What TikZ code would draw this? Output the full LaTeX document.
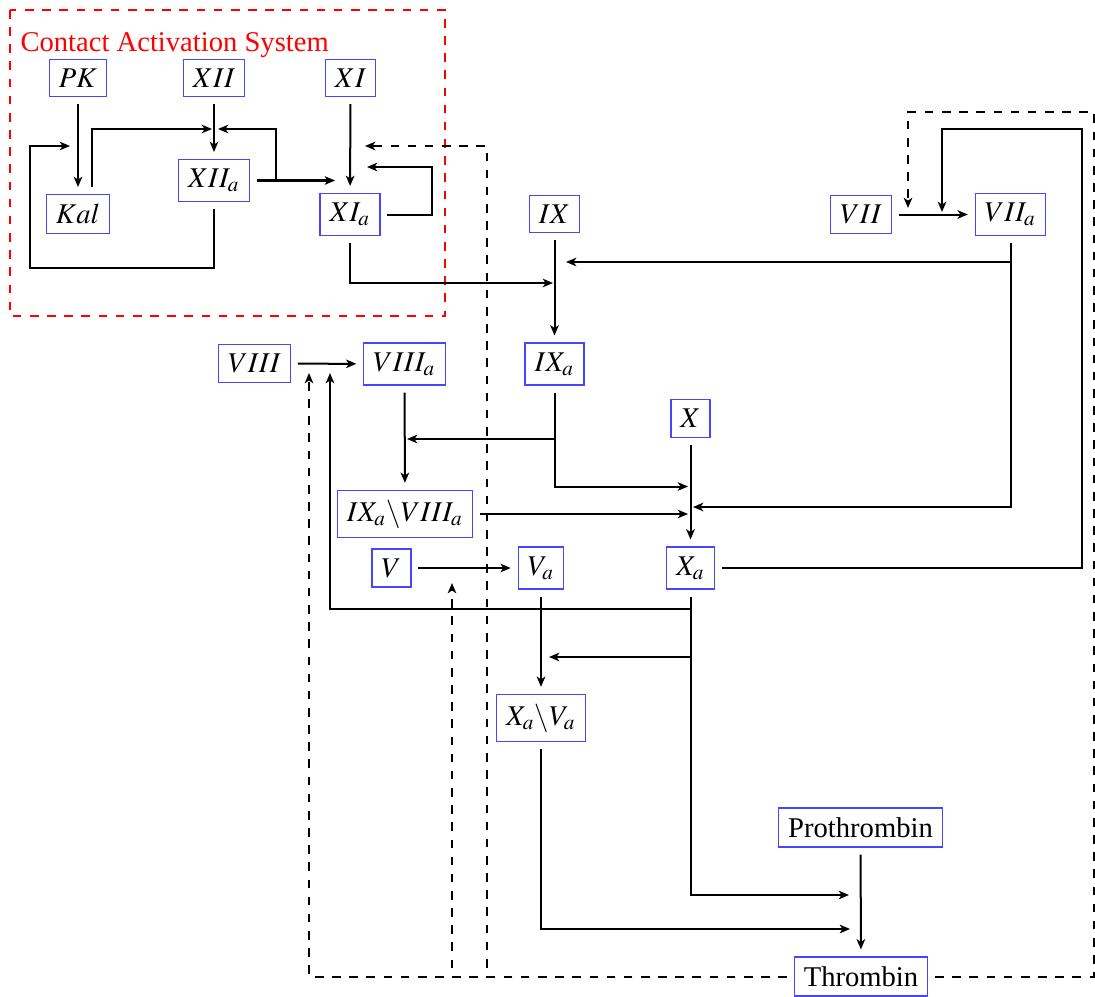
\documentclass[tikz,border=0pt]{standalone}
\usepackage{mathptmx}
\usepackage{fontspec}
\setmainfont{Liberation Serif}
\usetikzlibrary{arrows.meta,calc}
\definecolor{boxblue}{RGB}{70,70,255}
\begin{document}
\begin{tikzpicture}[x=0.3497pt,y=-0.3497pt,
  box/.style={draw=boxblue, line width=0.45pt, inner sep=0.3333em, outer sep=2.6pt},
  con/.style={line width=0.7pt, -{Stealth[length=3.6pt,width=3pt,inset=1pt]}},
  dsh/.style={line width=0.7pt, dashed, -{Stealth[length=3.6pt,width=3pt,inset=1pt]}}]
\useasboundingbox (0,0) rectangle (1095,996);
% contact activation system frame
\draw[red,dashed] (10,10) rectangle (445,316);
\node[red,anchor=base west,inner sep=0] (cas) at (20,52) {Contact Activation System};
% nodes
\node[box] (PK) at (78,78) {$PK$};
\node[box] (XII) at (214,78) {$XII$};
\node[box] (XI) at (350.5,78) {$XI$};
\node[box] (Kal) at (78,214) {$Kal$};
\node[box] (XIIa) at (214,180.5) {$XII_a$};
\node[box] (XIa) at (350,214.5) {$XI_a$};
\node[box] (IX) at (554.5,214) {$IX$};
\node[box] (VII) at (861,214.5) {$VII$};
\node[box] (VIIa) at (1010.5,214.5) {$VII_a$};
\node[box] (VIII) at (254.5,363.5) {$VIII$};
\node[box] (VIIIa) at (404.5,364) {$VIII_a$};
\node[box] (IXa) at (554.5,364) {$IX_a$};
\node[box] (X) at (690.5,418.5) {$X$};
\node[box] (IXaVIIIa) at (405,514) {$IX_a\backslash VIII_a$};
\node[box] (V) at (391.5,568) {$V$};
\node[box] (Va) at (541,568) {$V_a$};
\node[box] (Xa) at (690.5,568) {$X_a$};
\node[box] (XaVa) at (541,718) {$X_a\backslash V_a$};
\node[box] (Pro) at (860.5,827.5) {Prothrombin};
\node[box] (Thr) at (861,976.5) {Thrombin};
% coordinates
\coordinate (kalTip) at (212,129);
\coordinate (xiiaJ) at (276,180.5);
\coordinate (xiiaTip) at (218,129);
\coordinate (xiaIn) at (335,180.5);
\coordinate (loopC) at (432,167);
\coordinate (loopTip) at (367,167);
\coordinate (fbC) at (30,268);
\coordinate (fbTip) at (70,146);
\coordinate (xiaTip) at (553,283);
\coordinate (viiaTipX) at (693,507);
\coordinate (viiaJ) at (1010.5,262);
\coordinate (viiaTipIX) at (566,262);
\coordinate (xaC) at (1082,129);
\coordinate (xaTipVII) at (942,212);
\coordinate (ixaTipX) at (688,486.5);
\coordinate (ixaJ) at (554.5,439);
\coordinate (ixaTipV) at (407,439);
\coordinate (tenTip) at (688,514);
\coordinate (xaTipThr) at (849,895);
\coordinate (xaJ1) at (690.5,609);
\coordinate (xaTipVIII) at (330,373);
\coordinate (xaJ2) at (690.5,657);
\coordinate (xaTipVa) at (549,657);
\coordinate (xavaTip) at (850,929);
\coordinate (d1) at (487,146);
\coordinate (d1tip) at (365,146);
\coordinate (d2) at (452,583);
\coordinate (d3) at (309,373);
\coordinate (d4) at (1094,112);
\coordinate (d4tip) at (908,208);
% contact system connectors
\draw[con] (PK) -- (Kal);
\draw[con] (XII) -- (XIIa);
\draw[con] (XI) -- (XIa);
\draw[con] ($(Kal.north)+(14,0)$) |- (kalTip);
\draw[con] (XIIa.east) -- (xiaIn);
\draw[con] (xiiaJ) |- (xiiaTip);
\draw[con] (XIa.east) -| (loopC) -- (loopTip);
\draw[con] (XIIa.south) |- (fbC) |- (fbTip);
\draw[con] (XIa.south) |- (xiaTip);
% cascade
\draw[con] (IX) -- (IXa);
\draw[con] (VII) -- (VIIa);
\draw[con] (VIIa.south) |- (viiaTipX);
\draw[con] (viiaJ) -- (viiaTipIX);
\draw[con] (Xa.east) -| (xaC) -| (xaTipVII);
\draw[con] (VIII) -- (VIIIa);
\draw[con] (VIIIa) -- (IXaVIIIa);
\draw[con] (IXa.south) |- (ixaTipX);
\draw[con] (ixaJ) -- (ixaTipV);
\draw[con] (IXaVIIIa.east) -- (tenTip);
\draw[con] (X) -- (Xa);
\draw[con] (V) -- (Va);
\draw[con] (Va) -- (XaVa);
\draw[con] (Xa.south) |- (xaTipThr);
\draw[con] (xaJ1) -| (xaTipVIII);
\draw[con] (xaJ2) -- (xaTipVa);
\draw[con] (XaVa.south) |- (xavaTip);
\draw[con] (Pro) -- (Thr);
% thrombin feedback (dashed)
\draw[dsh] (Thr.west) -| (d1) -- (d1tip);
\draw[dsh] (Thr.west) -| (d2);
\draw[dsh] (Thr.west) -| (d3);
\draw[dsh] (Thr.east) -| (d4) -| (d4tip);
\end{tikzpicture}
\end{document}
